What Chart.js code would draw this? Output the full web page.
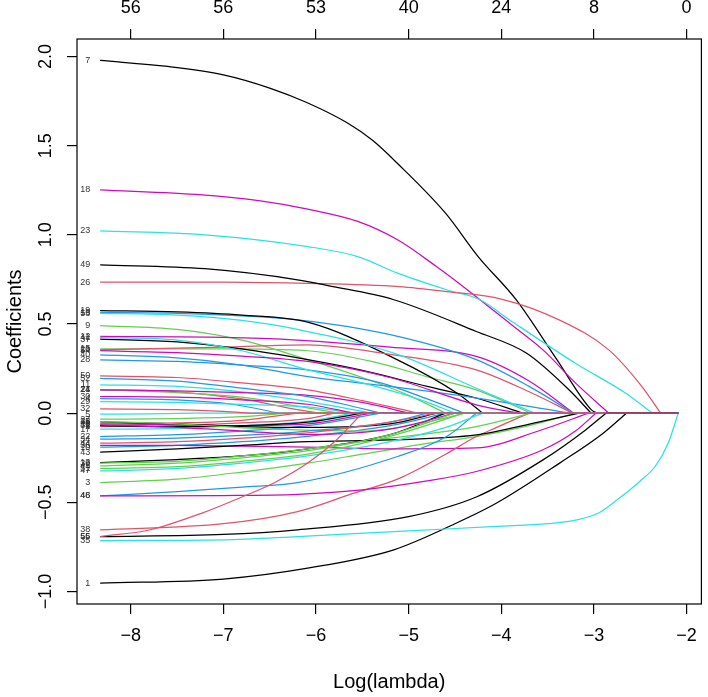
<!DOCTYPE html>
<html><head><meta charset="utf-8">
<script src="https://cdn.jsdelivr.net/npm/chart.js@4.4.0/dist/chart.umd.min.js"></script>
<style>html,body{margin:0;padding:0;background:#fff}#wrap{width:708px;height:697px;position:relative}</style>
</head><body><div id="wrap"><canvas id="c" width="708" height="697"></canvas></div>
<script>
const xTicks = [-8,-7,-6,-5,-4,-3,-2];
const xTickLabels = ['\u22128','\u22127','\u22126','\u22125','\u22124','\u22123','\u22122'];
const topTickLabels = ['56','56','53','40','24','8','0'];
const yTicks = [-1,-0.5,0,0.5,1,1.5,2];
const yTickLabels = ['\u22121.0','\u22120.5','0.0','0.5','1.0','1.5','2.0'];
const xTitle = 'Log(lambda)';
const yTitle = 'Coefficients';
const lambdaMax = -2.09;
const palette = ['#000000','#DF536B','#61D04F','#2297E6','#28E2E5','#CD0BBC'];

// log(lambda) at which each variable (1..56) leaves zero
const entryLambda = [
 -2.65,-5.8,-3.2,-6.4,-7.3,-5.4,-2.97,-6.2,-4.6,-4.6,
 -5.4,-3.22,-4.6,-5.95,-3.68,-3.22,-5.6,-2.84,-4.2,-3.23,
 -5.75,-5.3,-2.37,-5.0,-4.7,-2.28,-6.3,-4.4,-5.6,-5.6,
 -5.5,-6.7,-4.4,-4.8,-2.09,-3.06,-3.77,-3.7,-3.68,-3.25,
 -4.5,-4.5,-3.16,-4.7,-4.5,-4.27,-4.2,-2.98,-3.03,-4.9,
 -4.4,-5.3,-3.64,-3.81,-2.87,-5.5];

// coefficient path of each variable (1..56) before it reaches zero: [log(lambda), coefficient]
const coefPaths = [
 [[-8.33,-0.953],[-7,-0.93],[-6.09,-0.869],[-5.16,-0.766],[-4.5,-0.62],[-4.05,-0.504],[-3.37,-0.28],[-2.9,-0.112]],
 [[-8.33,-0.075],[-7.5,-0.07],[-6.8,-0.055],[-6.09,-0.03]],
 [[-8.33,-0.389],[-7.5,-0.37],[-6.8,-0.33],[-6.09,-0.28],[-5.5,-0.23],[-4.8,-0.17],[-4.27,-0.131],[-3.7,-0.07]],
 [[-8.33,0.082],[-7.5,0.075],[-6.9,0.05]],
 [[-8.33,-0.006],[-7.8,-0.004]],
 [[-8.33,-0.06],[-7.5,-0.065],[-6.8,-0.07],[-6.09,-0.06]],
 [[-8.33,1.978],[-7.6,1.944],[-7,1.897],[-6.5,1.823],[-6.1,1.742],[-5.66,1.627],[-5.39,1.53],[-5.12,1.40],[-4.6,1.12],[-4.25,0.878],[-3.84,0.636],[-3.4,0.3],[-3.03,0.02]],
 [[-8.33,-0.06],[-7.5,-0.055],[-6.8,-0.04]],
 [[-8.33,0.491],[-7.5,0.47],[-6.8,0.41],[-6.09,0.3],[-5.5,0.2],[-5,0.1]],
 [[-8.33,-0.19],[-7.5,-0.18],[-6.8,-0.16],[-6.09,-0.13],[-5.2,-0.07]],
 [[-8.33,0.159],[-7.5,0.15],[-6.8,0.12],[-6.09,0.065],[-5.7,0.03]],
 [[-8.33,0.43],[-7,0.425],[-6.2,0.41],[-5.2,0.37],[-4.27,0.318],[-3.7,0.18]],
 [[-8.33,-0.277],[-7.5,-0.26],[-6.8,-0.24],[-6.09,-0.2],[-5.2,-0.12]],
 [[-8.33,0.131],[-7.5,0.12],[-6.8,0.08],[-6.2,0.02]],
 [[-8.33,0.36],[-7,0.36],[-6.09,0.35],[-5.4,0.29],[-4.77,0.2],[-4.27,0.131]],
 [[-8.33,0.564],[-7.5,0.56],[-6.8,0.545],[-6.2,0.523],[-5.2,0.44],[-4.27,0.3],[-3.7,0.15]],
 [[-8.33,-0.09],[-7.5,-0.085],[-6.8,-0.07],[-6.09,-0.045]],
 [[-8.33,1.252],[-7.23,1.224],[-6.6,1.19],[-6.09,1.144],[-5.55,1.075],[-5.12,0.972],[-4.7,0.822],[-4.32,0.673],[-3.9,0.5],[-3.55,0.355],[-3.2,0.17]],
 [[-8.33,0.575],[-7.5,0.568],[-6.8,0.55],[-6.09,0.51],[-5.12,0.299],[-4.48,0.113]],
 [[-8.33,0.355],[-7,0.37],[-6.09,0.383],[-5.2,0.33],[-4.27,0.243],[-3.7,0.12]],
 [[-8.33,0.131],[-7.5,0.115],[-6.8,0.09],[-6.2,0.04]],
 [[-8.33,-0.131],[-7.5,-0.12],[-6.8,-0.1],[-6.09,-0.07]],
 [[-8.33,1.022],[-7.2,1.0],[-6.09,0.934],[-5.55,0.878],[-5.12,0.785],[-4.59,0.692],[-4.23,0.636],[-3.91,0.523],[-3.2,0.28],[-2.66,0.113]],
 [[-8.33,0.131],[-7.5,0.125],[-6.8,0.115],[-6.09,0.1],[-5.5,0.06]],
 [[-8.33,-0.049],[-7.5,-0.06],[-6.8,-0.075],[-6.09,-0.08],[-5.2,-0.06]],
 [[-8.33,0.735],[-7,0.735],[-6.2,0.729],[-5.1,0.71],[-4.59,0.682],[-4.0,0.64],[-3.37,0.522],[-2.84,0.355],[-2.48,0.148]],
 [[-8.33,-0.034],[-7.5,-0.03],[-6.8,-0.02]],
 [[-8.33,0.299],[-7.5,0.29],[-6.8,0.27],[-6.09,0.243],[-5.3,0.17],[-4.8,0.08]],
 [[-8.33,0.065],[-7.5,0.06],[-6.8,0.05],[-6.09,0.035]],
 [[-8.33,0.093],[-7.5,0.09],[-6.8,0.075],[-6.09,0.05]],
 [[-8.33,-0.07],[-7.5,-0.075],[-6.8,-0.07],[-6.09,-0.05]],
 [[-8.33,0.024],[-7.5,0.02],[-7,0.01]],
 [[-8.33,-0.047],[-7.5,-0.06],[-6.5,-0.09],[-5.5,-0.1],[-4.8,-0.05]],
 [[-8.33,-0.146],[-7.5,-0.14],[-6.8,-0.125],[-6.09,-0.1],[-5.2,-0.05]],
 [[-8.33,-0.714],[-7,-0.71],[-6.2,-0.692],[-5,-0.66],[-4.05,-0.635],[-3.5,-0.62],[-3.2,-0.6],[-2.95,-0.56],[-2.76,-0.49],[-2.5,-0.38],[-2.34,-0.299],[-2.2,-0.17]],
 [[-8.33,-0.18],[-7.5,-0.18],[-6.8,-0.185],[-6.09,-0.19],[-5.2,-0.2],[-4.27,-0.195],[-3.6,-0.1]],
 [[-8.33,0.415],[-7.5,0.4],[-6.8,0.36],[-6.09,0.30],[-5.5,0.24],[-4.8,0.15],[-4.27,0.085]],
 [[-8.33,-0.654],[-7,-0.62],[-6.2,-0.552],[-5.6,-0.45],[-5.12,-0.37],[-4.6,-0.23],[-4.27,-0.131],[-4.05,-0.08]],
 [[-8.33,-0.28],[-7.5,-0.27],[-6.8,-0.24],[-6.09,-0.2],[-5.2,-0.14],[-4.27,-0.075]],
 [[-8.33,0.327],[-7.5,0.31],[-6.8,0.27],[-6.09,0.205],[-5.2,0.15],[-4.27,0.085]],
 [[-8.33,0.425],[-7.5,0.41],[-6.8,0.35],[-6.09,0.243],[-5.5,0.17],[-4.9,0.08]],
 [[-8.33,-0.066],[-7.5,-0.08],[-6.8,-0.1],[-6.09,-0.12],[-5.2,-0.09]],
 [[-8.33,-0.219],[-7.5,-0.2],[-6.8,-0.18],[-6.09,-0.16],[-5.2,-0.15],[-4.27,-0.122],[-3.6,-0.05]],
 [[-8.33,-0.168],[-7.5,-0.16],[-6.8,-0.14],[-6.09,-0.11],[-5.2,-0.05]],
 [[-8.33,-0.296],[-7.5,-0.28],[-6.8,-0.25],[-6.09,-0.21],[-5.2,-0.12]],
 [[-8.33,-0.464],[-7.5,-0.44],[-6.8,-0.415],[-6.2,-0.39],[-5.12,-0.243],[-4.59,-0.131]],
 [[-8.33,-0.324],[-7.5,-0.31],[-6.8,-0.28],[-6.09,-0.24],[-5.2,-0.16],[-4.6,-0.08]],
 [[-8.33,-0.464],[-7,-0.462],[-6.2,-0.455],[-5.5,-0.43],[-4.8,-0.38],[-4.27,-0.327],[-3.55,-0.205],[-3.2,-0.1]],
 [[-8.33,0.832],[-7.2,0.81],[-6.2,0.748],[-5.87,0.715],[-5.16,0.636],[-4.27,0.458],[-3.73,0.337],[-3.27,0.131]],
 [[-8.33,0.209],[-7.5,0.2],[-6.8,0.17],[-6.09,0.131],[-5.5,0.07]],
 [[-8.33,-0.31],[-7.5,-0.3],[-6.8,-0.27],[-6.09,-0.23],[-5.2,-0.13]],
 [[-8.33,0.195],[-7.5,0.18],[-6.8,0.14],[-6.09,0.093],[-5.7,0.05]],
 [[-8.33,0.56],[-7.5,0.55],[-6.8,0.52],[-6.2,0.47],[-5.12,0.33],[-4.27,0.14]],
 [[-8.33,0.35],[-7.5,0.34],[-6.8,0.32],[-6.09,0.29],[-5.2,0.2],[-4.27,0.047]],
 [[-8.33,-0.692],[-7,-0.68],[-6.2,-0.654],[-5,-0.58],[-4.27,-0.47],[-3.55,-0.262],[-3.09,-0.094]],
 [[-8.33,-0.692],[-7.8,-0.655],[-7.23,-0.56],[-6.8,-0.47],[-6.45,-0.39],[-6.09,-0.28],[-5.8,-0.16]]
];

const FONT = '"Liberation Sans", Arial, Helvetica, sans-serif';
const datasets = [];
coefPaths.forEach((pts, i) => {
  const v = i + 1;
  const col = palette[i % 6];
  const e = entryLambda[i];
  const curve = pts.map(p => ({x: p[0], y: p[1]})).concat([{x: e, y: 0}]);
  datasets.push({label: String(v), data: curve, borderColor: col, borderWidth: 1.25,
    pointRadius: 0, fill: false, cubicInterpolationMode: 'monotone', tension: 0.4, order: 200 - 2*v});
  datasets.push({label: v + '_0', data: [{x: e, y: 0}, {x: lambdaMax, y: 0}], borderColor: col, borderWidth: 1.25,
    pointRadius: 0, fill: false, tension: 0, order: 199 - 2*v});
});

const decor = {
  id: 'decor',
  afterDraw(chart) {
    const ctx = chart.ctx, a = chart.chartArea, xs = chart.scales.x, ys = chart.scales.y;
    ctx.save();
    ctx.strokeStyle = '#000'; ctx.lineWidth = 1.2;
    ctx.strokeRect(a.left, a.top, a.right - a.left, a.bottom - a.top);
    ctx.fillStyle = '#000';
    ctx.font = '18px ' + FONT;
    ctx.textAlign = 'center'; ctx.textBaseline = 'middle';
    yTicks.forEach((v, i) => {
      ctx.save(); ctx.translate(46, ys.getPixelForValue(v)); ctx.rotate(-Math.PI / 2);
      ctx.fillText(yTickLabels[i], 0, 0); ctx.restore();
    });
    ctx.font = '20px ' + FONT;
    ctx.fillText(xTitle, (a.left + a.right) / 2, 682);
    ctx.save(); ctx.translate(15, (a.top + a.bottom) / 2); ctx.rotate(-Math.PI / 2);
    ctx.fillText(yTitle, 0, 0); ctx.restore();
    ctx.font = '9px ' + FONT; ctx.textAlign = 'right';
    coefPaths.forEach((pts, i) => {
      ctx.fillStyle = '#333';
      ctx.fillText(String(i + 1), xs.getPixelForValue(pts[0][0]) - 10, ys.getPixelForValue(pts[0][1]));
    });
    ctx.restore();
  }
};

const tickFont = {family: FONT, size: 18};
new Chart(document.getElementById('c'), {
  type: 'line',
  data: {datasets},
  options: {
    responsive: false, animation: false, devicePixelRatio: 1,
    layout: {padding: {left: 0, right: 1, top: 0, bottom: 0}},
    plugins: {legend: {display: false}, tooltip: {enabled: false}},
    scales: {
      x: {type: 'linear', position: 'bottom', min: -8.58, max: -1.84,
        afterBuildTicks: s => { s.ticks = xTicks.map(v => ({value: v})); },
        afterFit: s => { s.height = 93; },
        ticks: {font: tickFont, color: '#000', padding: 11, maxRotation: 0, autoSkip: false,
          callback: (v) => xTickLabels[xTicks.indexOf(v)]},
        grid: {drawOnChartArea: false, drawTicks: true, tickLength: 10, color: '#000', lineWidth: 1.2},
        border: {display: false}},
      x2: {type: 'linear', position: 'top', min: -8.58, max: -1.84,
        afterBuildTicks: s => { s.ticks = xTicks.map(v => ({value: v})); },
        afterFit: s => { s.height = 39; },
        ticks: {font: tickFont, color: '#000', padding: 10, maxRotation: 0, autoSkip: false,
          callback: (v) => topTickLabels[xTicks.indexOf(v)]},
        grid: {drawOnChartArea: false, drawTicks: true, tickLength: 10, color: '#000', lineWidth: 1.2},
        border: {display: false}},
      y: {type: 'linear', position: 'left', min: -1.07, max: 2.098,
        afterBuildTicks: s => { s.ticks = yTicks.map(v => ({value: v})); },
        afterFit: s => { s.width = 77; },
        ticks: {display: false},
        grid: {drawOnChartArea: false, drawTicks: true, tickLength: 10, color: '#000', lineWidth: 1.2},
        border: {display: false}}
    }
  },
  plugins: [decor]
});
</script></body></html>
